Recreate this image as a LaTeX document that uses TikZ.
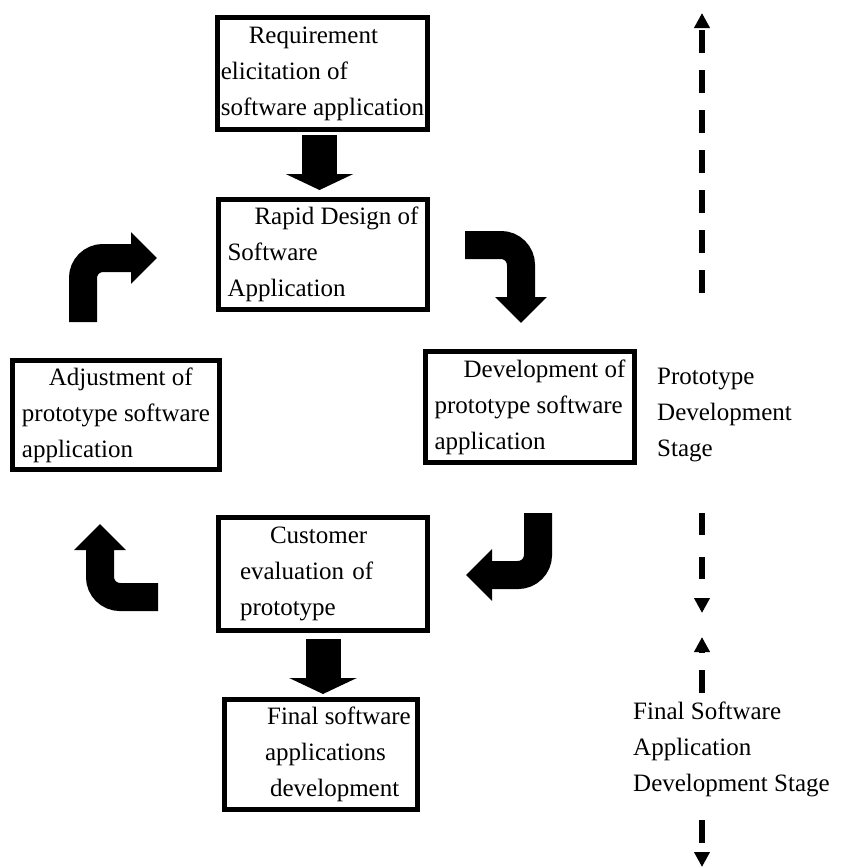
\documentclass[tikz,border=0pt]{standalone}
\usepackage{fontspec}
\setmainfont{Liberation Serif}
\usetikzlibrary{arrows.meta}
\tikzset{
  stepbox/.style={draw,line width=5pt,align=left,inner xsep=3pt,font=\fontsize{25}{36}\selectfont},
  stagetext/.style={align=left,inner sep=0pt,anchor=west,font=\fontsize{25}{36}\selectfont},
  fatarrow/.style={line width=35pt,-{Triangle[width=67pt,length=16pt]}},
  bentarrow/.style={line width=28pt,rounded corners=20pt,-{Triangle[width=50pt,length=26pt]}},
  stagearrow/.style={line width=6pt,dash pattern=on 23pt off 17pt,-{Triangle[width=15pt,length=15pt]}}
}
\begin{document}
\begin{tikzpicture}[x=1pt,y=-1pt]
\useasboundingbox (0,0) rectangle (841,868);
% boxes
\node[stepbox,minimum width=210pt,minimum height=112pt] (req) at (322.5,73.5) {\hspace*{28pt}Requirement\\elicitation of\\software application};
\node[stepbox,minimum width=209pt,minimum height=110pt] (rapid) at (323,254.5) {\hspace*{27pt}Rapid Design of\\Software\\Application};
\node[stepbox,minimum width=209pt,minimum height=111pt] (devel) at (530,407) {\hspace*{29pt}Development of\\prototype software\\application};
\node[stepbox,minimum width=207pt,minimum height=109pt] (adjust) at (116,415) {\hspace*{27pt}Adjustment of\\prototype software\\application};
\node[stepbox,minimum width=209pt,minimum height=113pt,text width=166pt] (cust) at (323,574) {\hspace*{30pt}Customer\\evaluation of\\prototype};
\node[stepbox,minimum width=193pt,minimum height=110pt] (final) at (321,754.5) {\hspace*{36pt}Final software\\\hspace*{34pt}applications\\\hspace*{39pt}development};
% stage labels
\node[stagetext] (proto) at (657,415) {Prototype\\Development\\Stage};
\node[stagetext] (finstage) at (633,749) {Final Software\\Application\\Development Stage};
% straight block arrows
\draw[fatarrow,shorten <=3pt,shorten >=7pt] ([xshift=-3pt]req.south) -- ([xshift=-3pt]req.south |- rapid.north);
\draw[fatarrow,shorten <=6pt,shorten >=3pt] (cust.south) -- (cust.south |- final.north);
% bent arrows round the loop
\coordinate (rapidout) at (465,245);
\coordinate (develin) at (521,323);
\coordinate (develout) at (538,513);
\coordinate (custin) at (466,575);
\coordinate (custout) at (158,597);
\coordinate (adjustin) at (100,524);
\coordinate (adjustout) at (83,322);
\coordinate (rapidin) at (157,258);
\draw[bentarrow] (rapidout) -| (develin);
\draw[bentarrow] (develout) |- (custin);
\draw[bentarrow] (custout) -| (adjustin);
\draw[bentarrow] (adjustout) |- (rapidin);
% dashed stage arrows
\coordinate (protolow) at (702,293);
\coordinate (prototop) at (702,13);
\coordinate (protoend) at (702,513);
\coordinate (protobot) at (702,613);
\coordinate (finlow) at (702,693);
\coordinate (fintop) at (702,637);
\coordinate (finend) at (702,820);
\coordinate (finbot) at (702,867);
\draw[stagearrow] (protolow) -- (prototop);
\draw[stagearrow,dash pattern=on 22pt off 22pt] (protoend) -- (protobot);
\draw[stagearrow] (finlow) -- (fintop);
\draw[stagearrow] (finend) -- (finbot);
\end{tikzpicture}
\end{document}
